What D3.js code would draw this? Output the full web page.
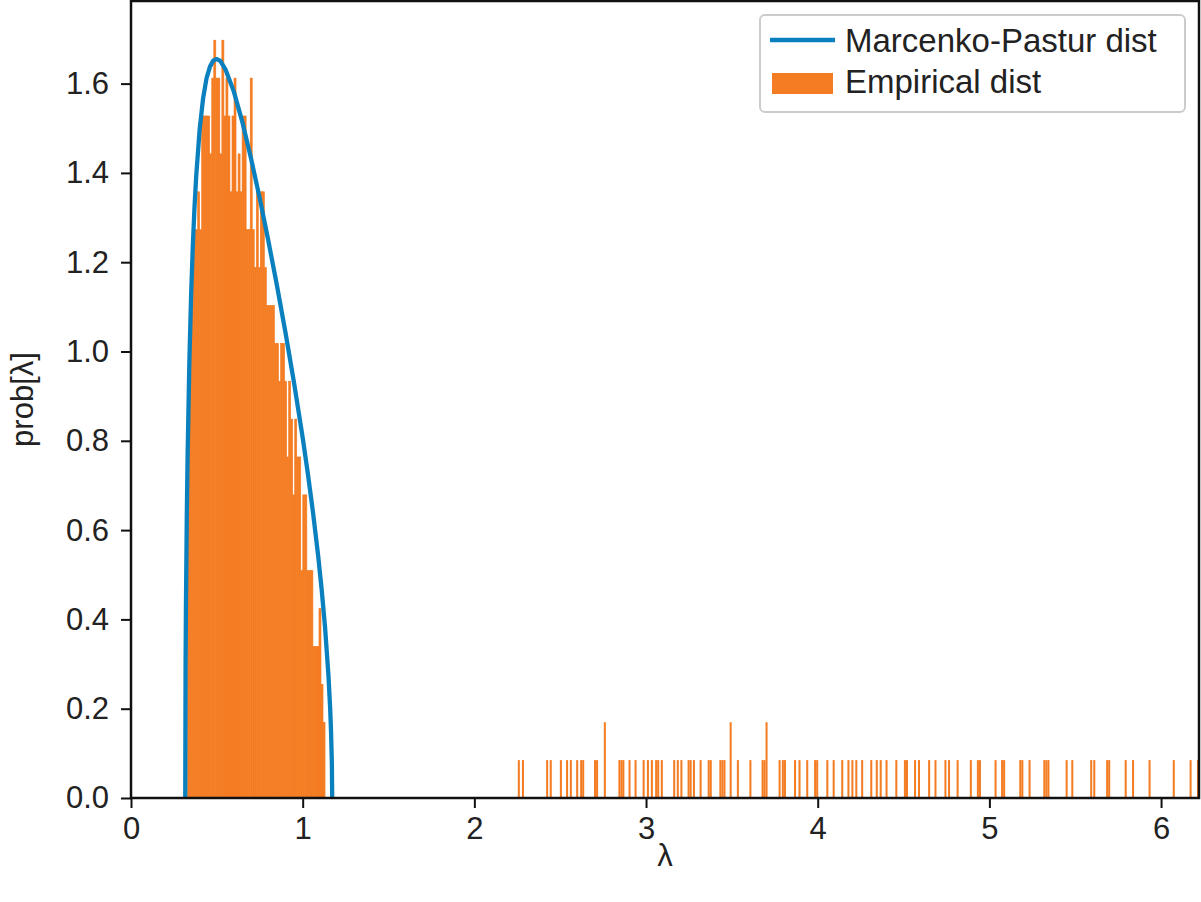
<!DOCTYPE html>
<html>
<head>
<meta charset="utf-8">
<script src="https://cdn.jsdelivr.net/npm/d3@7"></script>
<style>
  body { margin: 0; background: #fff; }
  text { font-family: "Liberation Sans", Arial, Helvetica, sans-serif; fill: #222; }
</style>
</head>
<body>
<div id="chartArea"></div>
<script>
// Histogram: 500 bins between smallest and largest eigenvalue, 1000 eigenvalues
const lambdaMin = 0.329, lambdaMax = 6.221, nBins = 500, nEig = 1000;

// counts of the first bins (the bulk), starting at lambdaMin
const bulkCounts = [
  11, 13, 14, 15, 15, 16, 15, 18, 18, 18,
  18, 17, 19, 20, 19, 19, 17, 20, 18, 19,
  18, 16, 18, 19, 16, 17, 16, 18, 18, 15,
  15, 19, 15, 14, 16, 14, 16, 16, 14, 13,
  13, 13, 13, 12, 12, 11, 12, 12, 11, 9,
  11, 10, 8, 10, 9, 9, 6, 8, 8, 6,
  6, 6, 4, 4, 4, 5, 3, 2
];

// isolated eigenvalues (bin centre, count)
const outlierBars = [
  [2.259, 1], [2.283, 1], [2.424, 1], [2.445, 1], [2.504, 1], [2.540, 1], [2.562, 1],
  [2.599, 1], [2.622, 1], [2.634, 1], [2.703, 1], [2.715, 1], [2.760, 2], [2.845, 1],
  [2.857, 1], [2.868, 1], [2.904, 1], [2.939, 1], [2.986, 1], [3.011, 1], [3.034, 1],
  [3.059, 1], [3.071, 1], [3.092, 1], [3.164, 1], [3.185, 1], [3.206, 1], [3.248, 1],
  [3.260, 1], [3.279, 1], [3.318, 1], [3.365, 1], [3.377, 1], [3.433, 1], [3.445, 1],
  [3.457, 1], [3.493, 2], [3.535, 1], [3.608, 1], [3.679, 1], [3.690, 1], [3.702, 2],
  [3.778, 1], [3.797, 1], [3.809, 1], [3.868, 1], [3.894, 1], [3.939, 1], [3.985, 1],
  [3.997, 1], [4.056, 1], [4.093, 1], [4.143, 1], [4.179, 1], [4.202, 1], [4.225, 1],
  [4.259, 1], [4.312, 1], [4.344, 1], [4.367, 1], [4.401, 1], [4.458, 1], [4.508, 1],
  [4.520, 1], [4.567, 1], [4.590, 1], [4.649, 1], [4.686, 1], [4.744, 1], [4.765, 1],
  [4.815, 1], [4.892, 1], [4.933, 1], [4.945, 1], [5.036, 1], [5.074, 1], [5.086, 1],
  [5.180, 1], [5.192, 1], [5.234, 1], [5.320, 1], [5.332, 1], [5.344, 1], [5.450, 1],
  [5.483, 1], [5.593, 1], [5.611, 1], [5.686, 1], [5.698, 1], [5.794, 1], [5.837, 1],
  [5.933, 1], [6.074, 1], [6.172, 1], [6.215, 1]
];

// Marcenko-Pastur curve
const mpLambda = [0.316, 0.318, 0.320, 0.325, 0.330, 0.340, 0.350, 0.360, 0.370, 0.380,
  0.400, 0.420, 0.440, 0.460, 0.480, 0.500, 0.520, 0.550, 0.600, 0.650,
  0.700, 0.750, 0.800, 0.850, 0.900, 0.950, 1.000, 1.030, 1.060, 1.090,
  1.110, 1.130, 1.150, 1.160, 1.165, 1.170, 1.172];
const mpProb = [0.000, 0.306, 0.429, 0.632, 0.774, 0.978, 1.124, 1.236, 1.324, 1.394,
  1.498, 1.567, 1.612, 1.638, 1.652, 1.655, 1.651, 1.632, 1.581, 1.512,
  1.431, 1.343, 1.248, 1.148, 1.042, 0.929, 0.807, 0.727, 0.640, 0.543,
  0.469, 0.384, 0.275, 0.202, 0.152, 0.077, 0.000];

const xTicks = [0, 1, 2, 3, 4, 5, 6];
const yTicks = [0, 0.2, 0.4, 0.6, 0.8, 1.0, 1.2, 1.4, 1.6];

const blue = '#0b80be', orange = '#f47c22';

let width = 1201, height = 902;
let margins = { top: 1, right: 2, bottom: 104, left: 131 };

let svg = d3.select('#chartArea').append('svg')
    .attr('width', width)
    .attr('height', height);

let xScale = d3.scaleLinear()
    .domain([0, lambdaMax])
    .range([margins.left, width - margins.right]);

let yScale = d3.scaleLinear()
    .domain([0, 1.785])
    .range([height - margins.bottom, margins.top]);

let binWidth = (lambdaMax - lambdaMin) / nBins;
let densPerCount = 1 / (nEig * binWidth);

// bulk bins: drawn with a hairline of the same colour so neighbours join up
svg.append('g').selectAll('rect')
    .data(bulkCounts.map((c, i) => ({ x0: lambdaMin + i * binWidth, c: c })).filter(d => d.c > 0))
    .enter().append('rect')
    .attr('x', d => xScale(d.x0))
    .attr('width', d => xScale(d.x0 + binWidth) - xScale(d.x0))
    .attr('y', d => yScale(d.c * densPerCount))
    .attr('height', d => yScale(0) - yScale(d.c * densPerCount))
    .attr('fill', orange)
    .attr('stroke', orange)
    .attr('stroke-width', 0.6);

// isolated bins
svg.append('g').selectAll('rect')
    .data(outlierBars.map(d => ({ x0: d[0] - binWidth / 2, c: d[1] })))
    .enter().append('rect')
    .attr('x', d => xScale(d.x0))
    .attr('width', d => xScale(d.x0 + binWidth) - xScale(d.x0))
    .attr('y', d => yScale(d.c * densPerCount))
    .attr('height', d => yScale(0) - yScale(d.c * densPerCount))
    .attr('fill', orange);

// MP curve
let line = d3.line()
    .x(d => xScale(d[0]))
    .y(d => yScale(d[1]));

svg.append('path')
    .attr('d', line(mpLambda.map((l, i) => [l, mpProb[i]])))
    .attr('fill', 'none')
    .attr('stroke', blue)
    .attr('stroke-width', 4.3)
    .attr('stroke-linejoin', 'round');

// axes
let xAxis = svg.append('g')
    .attr('transform', 'translate(0,' + (height - margins.bottom) + ')')
    .call(d3.axisBottom(xScale).tickValues(xTicks).tickFormat(d3.format('d'))
        .tickSize(10).tickSizeOuter(0).tickPadding(9));

let yAxis = svg.append('g')
    .attr('transform', 'translate(' + margins.left + ',0)')
    .call(d3.axisLeft(yScale).tickValues(yTicks).tickFormat(d3.format('.1f'))
        .tickSize(10).tickSizeOuter(0).tickPadding(12));

[xAxis, yAxis].forEach(a => {
    a.attr('font-family', null).attr('font-size', null);
    a.select('.domain').remove();
    a.selectAll('line').attr('stroke', '#111').attr('stroke-width', 2);
    a.selectAll('text').style('font-size', '31px').attr('fill', '#222');
});

// frame
svg.append('rect')
    .attr('x', margins.left)
    .attr('y', margins.top)
    .attr('width', width - margins.left - margins.right)
    .attr('height', height - margins.top - margins.bottom)
    .attr('fill', 'none')
    .attr('stroke', '#111')
    .attr('stroke-width', 2.5);

// axis labels
svg.append('text')
    .attr('x', (margins.left + width - margins.right) / 2)
    .attr('y', 866)
    .attr('text-anchor', 'middle')
    .style('font-size', '31px')
    .text('λ');

svg.append('text')
    .attr('transform', 'translate(33,' + ((margins.top + height - margins.bottom) / 2) + ') rotate(-90)')
    .attr('text-anchor', 'middle')
    .style('font-size', '31px')
    .text('prob[λ]');

// legend
let legend = svg.append('g');
legend.append('rect')
    .attr('x', 760).attr('y', 15)
    .attr('width', 425).attr('height', 97)
    .attr('rx', 5)
    .attr('fill', '#fff')
    .attr('stroke', '#cccccc')
    .attr('stroke-width', 2);
legend.append('line')
    .attr('x1', 770).attr('x2', 835)
    .attr('y1', 40).attr('y2', 40)
    .attr('stroke', blue).attr('stroke-width', 4.3);
legend.append('rect')
    .attr('x', 772).attr('y', 73)
    .attr('width', 61).attr('height', 21)
    .attr('fill', orange);
legend.append('text')
    .attr('x', 845).attr('y', 52)
    .style('font-size', '33px')
    .text('Marcenko-Pastur dist');
legend.append('text')
    .attr('x', 845).attr('y', 93)
    .style('font-size', '33px')
    .text('Empirical dist');
</script>
</body>
</html>
